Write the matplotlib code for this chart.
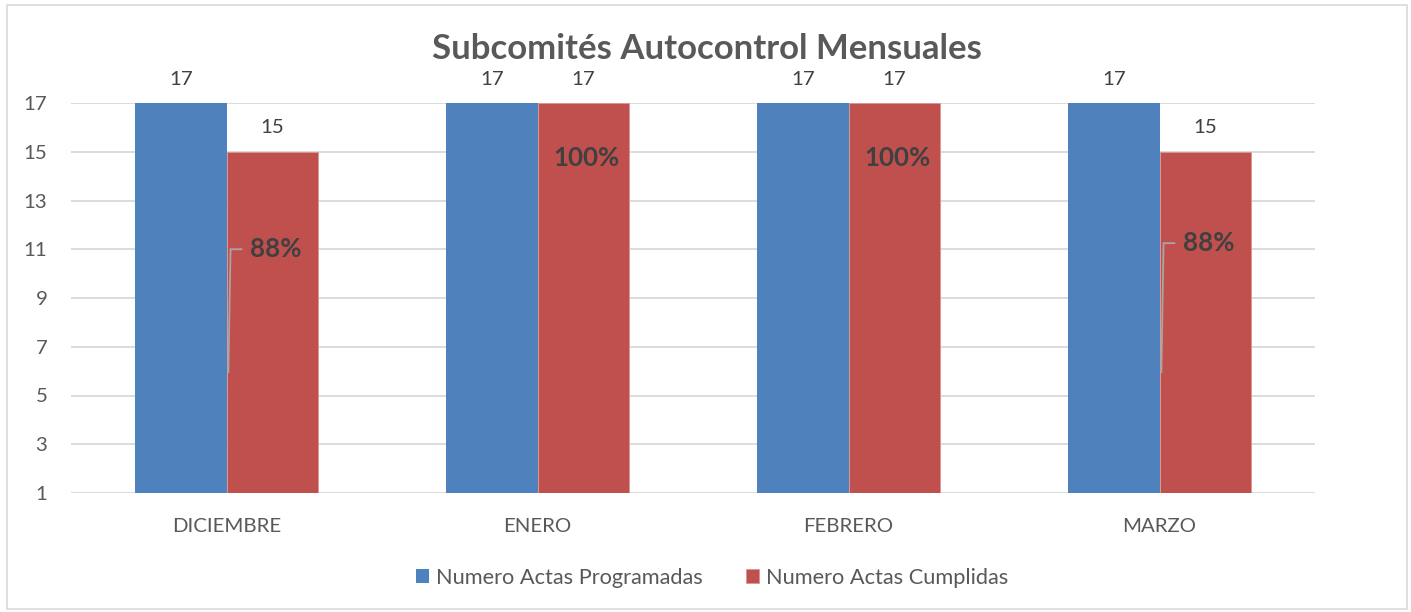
import matplotlib
matplotlib.use("Agg")
import matplotlib.pyplot as plt
import numpy as np
from matplotlib.patches import Rectangle

categories = ["DICIEMBRE", "ENERO", "FEBRERO", "MARZO"]
programadas = [17, 17, 17, 17]
cumplidas = [15, 17, 17, 15]
porcentajes = ["88%", "100%", "100%", "88%"]
series_names = ["Numero Actas Programadas", "Numero Actas Cumplidas"]
yticks = [1, 3, 5, 7, 9, 11, 13, 15, 17]

plt.rcParams['font.family'] = ['Lato', 'DejaVu Sans']

BLUE = "#4F81BD"
RED = "#C0504D"
TXT = "#595959"

fig = plt.figure(figsize=(14.11, 6.12), dpi=100)
W, H = 1411, 612
ax = fig.add_axes([71 / W, 1 - 493 / H, (1315 - 71) / W, (493 - 103) / H])

# outer border
fig.patches.append(Rectangle((7 / W, 1 - 609 / H), 1400 / W, 604 / H, transform=fig.transFigure,
                             fill=False, edgecolor="#D9D9D9", linewidth=1.2))

x = np.arange(len(categories))
bw = 0.294
b1 = ax.bar(x - bw / 2, programadas, bw, color=BLUE, label=series_names[0], zorder=3)
b2 = ax.bar(x + bw / 2, cumplidas, bw, color=RED, label=series_names[1], zorder=3,
            edgecolor="#D99694", linewidth=0.6)

ax.set_xlim(-0.5, len(categories) - 0.5)
ax.set_ylim(1, 17)
ax.set_yticks(yticks)
ax.set_xticks(x)
ax.set_xticklabels(categories)
ax.yaxis.grid(True, color="#D9D9D9", linewidth=1.3, zorder=0)
ax.set_axisbelow(True)
for s in ax.spines.values():
    s.set_visible(False)
ax.tick_params(axis='both', length=0, colors=TXT, labelsize=14.7)
ax.tick_params(axis='x', pad=18)
ax.tick_params(axis='y', pad=17)
for lab in ax.get_yticklabels():
    lab.set_horizontalalignment('right')

# value labels
for bars, vals in ((b1, programadas), (b2, cumplidas)):
    for r, v in zip(bars, vals):
        ax.annotate(str(v), (r.get_x() + r.get_width() / 2, v), xytext=(0, 11),
                    textcoords="offset points", ha="center", va="bottom",
                    fontsize=14.7, color="#404040", annotation_clip=False)

# percentage labels
for i, (p, v, c) in enumerate(zip(porcentajes, programadas, cumplidas)):
    if c < v:
        ly = 11.0 if i == 0 else 11.25
        ax.text(x[i] + 0.074, ly, p, ha="left", va="center", fontsize=18.7, fontweight="bold",
                color="#404040", zorder=5)
        ax.plot([x[i] + 0.006, x[i] + 0.013, x[i] + 0.048], [5.96, ly, ly], color="#A6A6A6",
                linewidth=1.3, zorder=4, solid_joinstyle="miter")
    else:
        ax.text(x[i] + 0.157, 14.75, p, ha="center", va="center", fontsize=18.7, fontweight="bold",
                color="#404040", zorder=5)

fig.text(707 / W, 1 - 49 / H, "Subcomités Autocontrol Mensuales", ha="center", va="center",
         fontsize=25, fontweight="bold", color=TXT)

leg = fig.legend(handles=[b1, b2], labels=series_names, loc="center", bbox_to_anchor=(712 / W, 1 - 578 / H),
                 ncol=2, frameon=False, fontsize=15.7, handlelength=0.6, handleheight=0.6,
                 handletextpad=0.3, columnspacing=2.0)
for t in leg.get_texts():
    t.set_color(TXT)

fig.savefig("out.png", dpi=100)
